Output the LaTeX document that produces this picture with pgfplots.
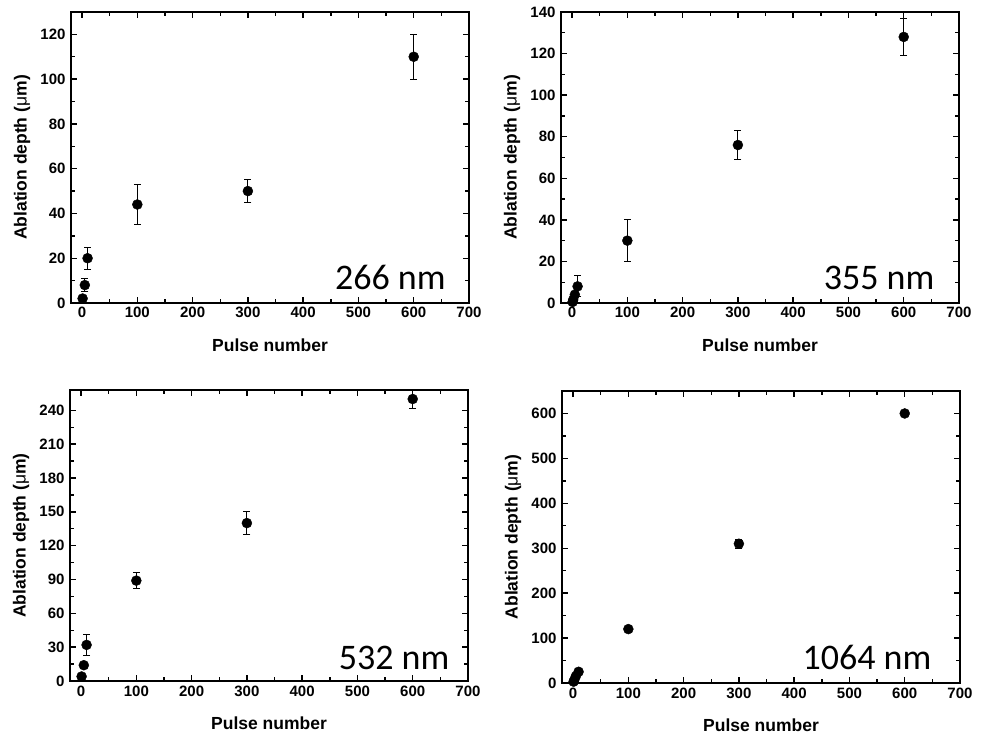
\documentclass[border=0pt]{standalone}
\usepackage{fontspec}
\setmainfont{Liberation Sans}
\newfontfamily\calibri{Carlito}
\usepackage{pgfplots}
\pgfplotsset{compat=1.18}
\pgfplotsset{abl/.style={
  scale only axis, width=398pt, height=291pt,
  xmin=-20, xmax=700, xtick={0,100,...,700},
  minor x tick num=1, minor y tick num=1,
  ymin=0,
  tick align=inside,
  axis line style={line width=1.8pt},
  major tick length=6pt, minor tick length=4pt,
  every tick/.style={line width=1.4pt, black},
  tick label style={font=\fontsize{15}{15}\selectfont\bfseries},
  yticklabel style={xshift=-2pt},
  xticklabel style={yshift=-1pt},
  /pgf/number format/assume math mode=true,
  /pgf/number format/1000 sep={},
  xlabel style={at={(axis description cs:0.5,0)}, yshift=-42pt, anchor=center, font=\fontsize{17.5}{18}\selectfont\bfseries},
  ylabel style={at={(axis description cs:-0.1231,0.5)}, anchor=center, font=\fontsize{17.5}{18}\selectfont\bfseries},
  xlabel={Pulse number},
  ylabel={Ablation depth (\textmd{μ}m)},
}}
\pgfplotsset{eb/.style={black, only marks, mark=*, mark size=5pt,
  error bars/y dir=both, error bars/y explicit,
  error bars/error bar style={line width=1pt, black},
  error bars/error mark options={line width=1pt, mark size=3.5pt, black, rotate=90}}}
\begin{document}
\begin{tikzpicture}
\useasboundingbox (0pt,0pt) rectangle (987pt,735pt);
% 266 nm
\begin{axis}[abl, at={(71pt,432pt)}, anchor=south west, ymax=130, ytick={0,20,...,120}]
\addplot[eb] table[x=x, y=y, y error=e] {
x y e
1 2 0
5 8 3
10 20 5
100 44 9
300 50 5
600 110 10
};
\node[anchor=base east, font=\calibri\fontsize{36}{36}\selectfont] at (rel axis cs:0.95,0.045) {266 nm};
\end{axis}
% 355 nm
\begin{axis}[abl, at={(561pt,432pt)}, anchor=south west, ymax=140, ytick={0,20,...,140}]
\addplot[eb] table[x=x, y=y, y error=e] {
x y e
1 0.5 0
2 1.5 0
5 4 0
10 8 5
100 30 10
300 76 7
600 128 9
};
\node[anchor=base east, font=\calibri\fontsize{36}{36}\selectfont] at (rel axis cs:0.947,0.045) {355 nm};
\end{axis}
% 532 nm
\begin{axis}[abl, at={(70pt,54pt)}, anchor=south west, ymax=258, ytick={0,30,...,240}]
\addplot[eb] table[x=x, y=y, y error=e] {
x y e
1 4 0
5 14 0
10 32 9
100 89 7
300 140 10
600 250 8
};
\node[anchor=base east, font=\calibri\fontsize{36}{36}\selectfont] at (rel axis cs:0.962,0.038) {532 nm};
\end{axis}
% 1064 nm
\begin{axis}[abl, at={(562pt,52pt)}, anchor=south west, height=292pt, ymax=650, ytick={0,100,...,600}]
\addplot[eb] table[x=x, y=y, y error=e] {
x y e
1 3 0
2 6 0
5 15 0
10 25 0
100 120 5
300 310 10
600 600 3
};
\node[anchor=base east, font=\calibri\fontsize{36}{36}\selectfont] at (rel axis cs:0.937,0.045) {1064 nm};
\end{axis}
\end{tikzpicture}
\end{document}
